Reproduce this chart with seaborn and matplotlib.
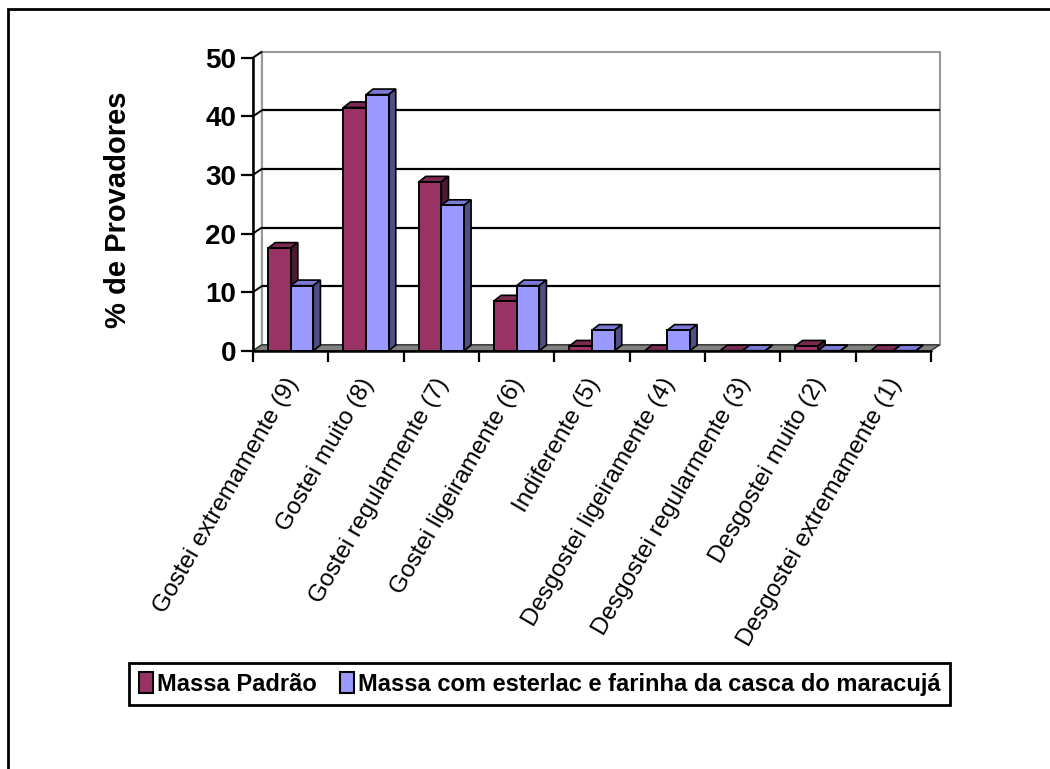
import matplotlib
matplotlib.use("Agg")
import matplotlib.pyplot as plt
from matplotlib.patches import Polygon, Rectangle, Patch
from matplotlib.transforms import ScaledTranslation
import numpy as np
import pandas as pd
import seaborn as sns

# Hedonic scale categories and % of tasters per sample
categorias = [
    "Gostei extremamente (9)",
    "Gostei muito (8)",
    "Gostei regularmente (7)",
    "Gostei ligeiramente (6)",
    "Indiferente (5)",
    "Desgostei ligeiramente (4)",
    "Desgostei regularmente (3)",
    "Desgostei muito (2)",
    "Desgostei extremamente (1)",
]
massa_padrao = [17.5, 41.5, 28.8, 8.5, 0.8, 0.0, 0.0, 0.8, 0.0]
massa_maracuja = [11.1, 43.7, 24.8, 11.1, 3.5, 3.5, 0.0, 0.0, 0.0]
series = ["Massa Padrão", "Massa com esterlac e farinha da casca do maracujá"]
yticks = [0, 10, 20, 30, 40, 50]

# front / top / side shades for the pseudo-3D bars
front = ["#993366", "#9999FF"]
top = ["#7a2952", "#7a7ad6"]
side = ["#4c1933", "#4f4f85"]

sns.set_theme(style="white")
plt.rcParams["font.family"] = ["Liberation Sans", "DejaVu Sans"]
plt.rcParams["text.color"] = "black"
plt.rcParams["xtick.color"] = "black"
plt.rcParams["ytick.color"] = "black"
plt.rcParams["axes.labelcolor"] = "black"

W, H = 1050, 769
fig = plt.figure(figsize=(W / 100, H / 100), dpi=100)
fig.patch.set_facecolor("white")
ax = fig.add_axes([253 / W, 1 - 350.7 / H, 678 / W, 293.0 / H])
ax.set_facecolor("none")

df = pd.DataFrame({
    "categoria": categorias * 2,
    "valor": massa_padrao + massa_maracuja,
    "amostra": [series[0]] * len(categorias) + [series[1]] * len(categorias),
})

sns.barplot(data=df, x="categoria", y="valor", hue="amostra",
            order=categorias, hue_order=series, palette=front,
            saturation=1, width=0.6, gap=0, edgecolor="black",
            linewidth=1.4, legend=False, ax=ax, zorder=5)

ax.set_xlim(-0.5, 8.5)
ax.set_ylim(0, 50)
for s in ax.spines.values():
    s.set_visible(False)

# depth of the walls and of the bars (data units)
dxw, dyw = 0.115, 1.0
dxb, dyb = 0.095, 0.95
x0, x1 = -0.5, 8.5

# back wall
ax.add_patch(Polygon([(x0 + dxw, dyw), (x1 + dxw, dyw), (x1 + dxw, 50 + dyw),
                      (x0 + dxw, 50 + dyw)], closed=True, facecolor="white",
                     edgecolor="#999999", lw=1.5, zorder=0, clip_on=False))
# left wall
ax.add_patch(Polygon([(x0, 0), (x0 + dxw, dyw), (x0 + dxw, 50 + dyw), (x0, 50)],
                     closed=True, facecolor="white", edgecolor="#999999",
                     lw=1.2, zorder=0.5, clip_on=False))
# gridlines on back wall plus their slant across the left wall
for yv in yticks[1:]:
    if yv < 50:
        ax.plot([x0 + dxw, x1 + dxw], [yv + dyw, yv + dyw], color="black",
                lw=1.6, zorder=1, clip_on=False, solid_capstyle="butt")
    ax.plot([x0, x0 + dxw], [yv, yv + dyw], color="black", lw=1.4,
            zorder=1, clip_on=False)
# floor
ax.add_patch(Polygon([(x0, 0), (x1, 0), (x1 + dxw, dyw), (x0 + dxw, dyw)],
                     closed=True, facecolor="#808080", edgecolor="#303030",
                     lw=1.0, zorder=2, clip_on=False))
ax.plot([x0, x1], [0, 0], color="black", lw=1.8, zorder=6, clip_on=False)
ax.plot([x0, x0], [0, 50], color="black", lw=1.8, zorder=6, clip_on=False)

# category separators under the floor
ax.vlines(np.arange(-0.5, 9.0, 1.0), -2.0, 0, colors="black", lw=1.6,
          zorder=6, clip_on=False)

# top and side faces of each bar
fronts_l = [c.lower() for c in front]
for p in list(ax.patches):
    if not isinstance(p, Rectangle) or p.get_width() > 1:
        continue
    fc = matplotlib.colors.to_hex(p.get_facecolor()).lower()
    if fc not in fronts_l:
        continue
    k = fronts_l.index(fc)
    bx, bw, bh = p.get_x(), p.get_width(), p.get_height()
    ax.add_patch(Polygon([(bx, bh), (bx + bw, bh), (bx + bw + dxb, bh + dyb),
                          (bx + dxb, bh + dyb)], closed=True, facecolor=top[k],
                         edgecolor="black", lw=1.2, zorder=4, clip_on=False))
    ax.add_patch(Polygon([(bx + bw, 0), (bx + bw + dxb, dyb),
                          (bx + bw + dxb, bh + dyb), (bx + bw, bh)],
                         closed=True, facecolor=side[k], edgecolor="black",
                         lw=1.2, zorder=4, clip_on=False))

# axes ticks and labels
ax.set_yticks(yticks, labels=[str(v) for v in yticks], fontsize=20,
              fontweight="bold")
ax.tick_params(axis="y", left=True, length=9, width=1.6, color="black",
               pad=3)
ax.set_xticks(range(len(categorias)), labels=categorias, rotation=60,
              ha="right", rotation_mode="anchor", fontsize=17.5)
ax.tick_params(axis="x", bottom=False, length=0, pad=17)
shift = ScaledTranslation(-7 / 100, 0, fig.dpi_scale_trans)
for lbl in ax.get_xticklabels():
    lbl.set_transform(lbl.get_transform() + shift)
ax.set_xlabel("")
ax.set_ylabel("")
ax.grid(False)

fig.text(118 / W, 1 - 210 / H, "% de Provadores", rotation=90, fontsize=21,
         fontweight="bold", ha="center", va="center")

handles = [Patch(facecolor=c, edgecolor="black", lw=1.5) for c in front]
leg = fig.legend(handles, series, loc="center",
                 bbox_to_anchor=(539.5 / W, 1 - 684 / H), ncol=2, frameon=True,
                 fancybox=False, edgecolor="black", framealpha=1,
                 prop={"weight": "bold", "size": 17}, handlelength=0.6,
                 handleheight=1.0, handletextpad=0.15, columnspacing=1.0,
                 borderpad=0.4)
leg.get_frame().set_linewidth(2)

# outer chart border
fig.add_artist(Rectangle((8 / W, -0.05), 1.2, (1 - 9 / H) + 0.05,
                         transform=fig.transFigure, fill=False,
                         edgecolor="black", lw=2))

fig.savefig("out.png", dpi=100)
